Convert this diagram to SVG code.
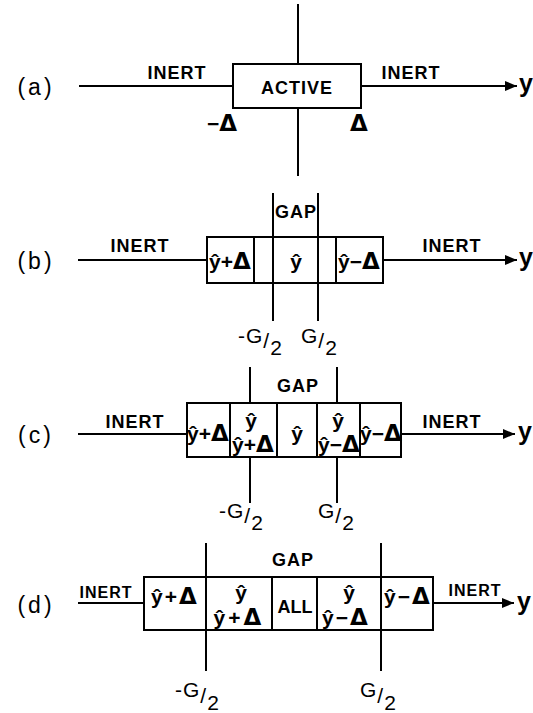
<svg xmlns="http://www.w3.org/2000/svg" width="533" height="713" viewBox="0 0 533 713">
<defs>
<marker id="arr" markerUnits="userSpaceOnUse" markerWidth="13" markerHeight="11" refX="12" refY="5.5" orient="auto">
<path d="M0,0.5 L12,5.5 L0,10.5 z" fill="#000"/>
</marker>
<style>
.ln{stroke:#000;stroke-width:2;fill:none}
.bx{stroke:#000;stroke-width:2;fill:#fff}
.t{font-family:"Liberation Sans",Arial,sans-serif;fill:#000}
.pl{font-size:23px;letter-spacing:3px;text-anchor:middle}
.lab{font-size:18px;font-weight:bold;letter-spacing:1px;text-anchor:middle}
.cell{font-size:21px;font-weight:bold;text-anchor:middle}
.d{font-family:"DejaVu Sans",sans-serif;font-weight:bold;font-size:23px}
.ax{font-size:25px;font-weight:bold}
.g{font-size:21px;letter-spacing:1px}
</style>
</defs>
<rect width="533" height="713" fill="#fff"/>

<!-- connectors -->
<g id="connectors" class="ln">
<line x1="79" y1="86" x2="233" y2="86"/>
<line x1="361" y1="86" x2="517" y2="86" marker-end="url(#arr)"/>
<line x1="298" y1="4" x2="298" y2="64"/>
<line x1="298" y1="108" x2="298" y2="176"/>
<line x1="78" y1="260" x2="207" y2="260"/>
<line x1="383" y1="260" x2="517" y2="260" marker-end="url(#arr)"/>
<line x1="78" y1="434" x2="187" y2="434"/>
<line x1="401" y1="434" x2="515" y2="434" marker-end="url(#arr)"/>
<line x1="250" y1="367" x2="250" y2="403"/>
<line x1="250" y1="457" x2="250" y2="503"/>
<line x1="337" y1="367" x2="337" y2="403"/>
<line x1="337" y1="457" x2="337" y2="503"/>
<line x1="78" y1="603" x2="144" y2="603"/>
<line x1="433" y1="603" x2="514" y2="603" marker-end="url(#arr)"/>
</g>

<!-- panel a -->
<g id="panel-a">
<text class="t pl" x="36" y="95">(a)</text>
<text class="t lab" x="177" y="79">INERT</text>
<text class="t lab" x="411" y="79">INERT</text>
<text class="t ax" x="519" y="92">y</text>
<g id="active">
<rect class="bx" x="233" y="64" width="128" height="44"/>
<text class="t lab" x="297" y="94">ACTIVE</text>
</g>
<text class="t cell" x="222" y="131">−<tspan class="d">Δ</tspan></text>
<text class="t cell" x="359" y="131"><tspan class="d">Δ</tspan></text>
</g>

<!-- panel b -->
<g id="panel-b">
<text class="t pl" x="36" y="269">(b)</text>
<text class="t lab" x="140" y="252">INERT</text>
<text class="t lab" x="452" y="252">INERT</text>
<text class="t ax" x="519" y="266">y</text>
<text class="t lab" x="296" y="218">GAP</text>
<g id="b-box">
<rect class="bx" x="207" y="237" width="176" height="46"/>
<line class="ln" x1="254" y1="237" x2="254" y2="283"/>
<line class="ln" x1="336" y1="237" x2="336" y2="283"/>
<text class="t cell" x="230" y="269">ŷ+<tspan class="d">Δ</tspan></text>
<text class="t cell" x="296" y="269">ŷ</text>
<text class="t cell" x="359" y="269">ŷ−<tspan class="d">Δ</tspan></text>
</g>
<line class="ln" x1="273" y1="193" x2="273" y2="321"/>
<line class="ln" x1="318" y1="193" x2="318" y2="321"/>
<text class="t g" x="238" y="343">-G<tspan dy="5">/</tspan><tspan dy="7">2</tspan></text>
<text class="t g" x="301" y="343">G<tspan dy="5">/</tspan><tspan dy="7">2</tspan></text>
</g>

<!-- panel c -->
<g id="panel-c">
<text class="t pl" x="36" y="443">(c)</text>
<text class="t lab" x="135" y="428">INERT</text>
<text class="t lab" x="452" y="428">INERT</text>
<text class="t ax" x="518" y="440">y</text>
<text class="t lab" x="298" y="392">GAP</text>
<g id="c-box">
<rect class="bx" x="187" y="403" width="214" height="54"/>
<line class="ln" x1="230" y1="403" x2="230" y2="457"/>
<line class="ln" x1="277" y1="403" x2="277" y2="457"/>
<line class="ln" x1="317" y1="403" x2="317" y2="457"/>
<line class="ln" x1="360" y1="403" x2="360" y2="457"/>
<text class="t cell" x="208" y="441">ŷ+<tspan class="d">Δ</tspan></text>
<text class="t cell" x="251" y="428">ŷ</text>
<text class="t cell" x="253" y="452">ŷ+<tspan class="d">Δ</tspan></text>
<text class="t cell" x="297" y="441">ŷ</text>
<text class="t cell" x="338" y="428">ŷ</text>
<text class="t cell" x="339" y="452">ŷ−<tspan class="d">Δ</tspan></text>
<text class="t cell" x="381" y="441">ŷ−<tspan class="d">Δ</tspan></text>
</g>
<text class="t g" x="219" y="518">-G<tspan dy="5">/</tspan><tspan dy="7">2</tspan></text>
<text class="t g" x="318" y="518">G<tspan dy="5">/</tspan><tspan dy="7">2</tspan></text>
</g>

<!-- panel d -->
<g id="panel-d">
<text class="t pl" x="36" y="613">(d)</text>
<text class="t lab" x="106" y="598" style="font-size:16px">INERT</text>
<text class="t lab" x="475" y="596" style="font-size:16px">INERT</text>
<text class="t ax" x="517" y="610">y</text>
<text class="t lab" x="293" y="566">GAP</text>
<g id="d-box">
<rect class="bx" x="144" y="577" width="289" height="53"/>
<line class="ln" x1="272" y1="577" x2="272" y2="630"/>
<line class="ln" x1="317" y1="577" x2="317" y2="630"/>
<text class="t cell" x="175" y="604" style="letter-spacing:2px">ŷ+<tspan class="d">Δ</tspan></text>
<text class="t cell" x="241" y="600">ŷ</text>
<text class="t cell" x="239" y="625" style="letter-spacing:3px">ŷ+<tspan class="d">Δ</tspan></text>
<text class="t cell" x="295" y="613" style="font-size:18px">ALL</text>
<text class="t cell" x="349" y="600">ŷ</text>
<text class="t cell" x="346" y="625" style="letter-spacing:2px">ŷ−<tspan class="d">Δ</tspan></text>
<text class="t cell" x="408" y="604" style="letter-spacing:2px">ŷ−<tspan class="d">Δ</tspan></text>
</g>
<line class="ln" x1="206" y1="543" x2="206" y2="671"/>
<line class="ln" x1="381" y1="543" x2="381" y2="671"/>
<text class="t g" x="175" y="697">-G<tspan dy="6">/</tspan><tspan dy="7">2</tspan></text>
<text class="t g" x="360" y="697">G<tspan dy="6">/</tspan><tspan dy="7">2</tspan></text>
</g>
</svg>
